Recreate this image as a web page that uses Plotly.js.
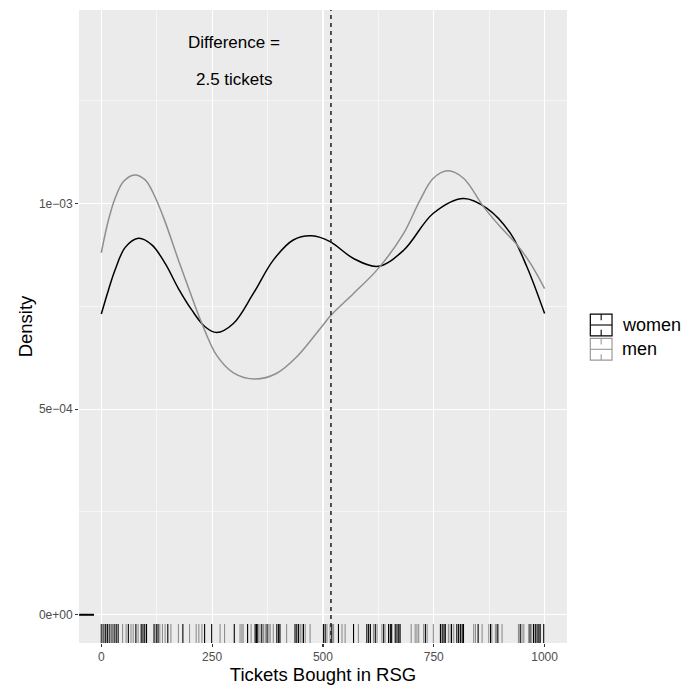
<!DOCTYPE html>
<html>
<head>
<meta charset="utf-8">
<script src="https://cdn.plot.ly/plotly-3.0.1.min.js"></script>
<style>html,body{margin:0;padding:0;background:#fff;}#chart{width:685px;height:687px;}</style>
</head>
<body>
<div id="chart"></div>
<script>
// ---- data ----
const groups = ["women", "men"];
const groupColors = ["#000000", "#8F8F8F"];

const womenX = [0, 16, 31, 54, 84, 114, 144, 174, 204, 234, 260, 298, 343, 388, 433, 475, 516, 569, 625, 682, 749, 817, 870, 923, 960, 1000];
const womenY = [0.000731, 0.000789, 0.000838, 0.000893, 0.000915, 0.000899, 0.000854, 0.000793, 0.000741, 0.000700, 0.000686, 0.000708, 0.000781, 0.000862, 0.000911, 0.000921, 0.000907, 0.000866, 0.000847, 0.000886, 0.000976, 0.001012, 0.000988, 0.000927, 0.000846, 0.000732];

const menX = [0, 16, 31, 50, 75, 99, 121, 144, 174, 204, 227, 260, 298, 347, 396, 441, 494, 518, 569, 625, 682, 719, 749, 782, 817, 862, 900, 938, 968, 1000];
const menY = [0.000880, 0.000959, 0.001012, 0.001053, 0.001069, 0.001057, 0.001016, 0.000955, 0.000862, 0.000773, 0.000708, 0.000631, 0.000588, 0.000573, 0.000587, 0.000627, 0.000696, 0.000728, 0.000781, 0.000842, 0.000927, 0.001008, 0.001061, 0.001079, 0.001061, 0.000992, 0.000943, 0.000899, 0.000854, 0.000793];

const womenRug = [0, 4, 9, 14, 19, 24, 29, 34, 38, 61, 78, 90, 94, 98, 102, 119, 124, 128, 150, 184, 233, 249, 300, 330, 347, 350, 353, 362, 374, 396, 400, 403, 437, 441, 445, 456, 501, 505, 520, 535, 569, 599, 603, 607, 618, 637, 648, 652, 655, 663, 667, 671, 674, 731, 765, 769, 773, 776, 790, 802, 806, 810, 814, 817, 850, 878, 893, 945, 967, 975, 979, 983, 987, 990, 998];
const menRug = [2, 7, 12, 17, 22, 27, 32, 36, 48, 56, 67, 72, 83, 132, 138, 144, 157, 174, 199, 214, 220, 227, 268, 278, 313, 317, 320, 338, 358, 366, 370, 378, 381, 388, 418, 449, 453, 460, 471, 509, 516, 524, 543, 550, 580, 614, 622, 633, 640, 699, 708, 712, 716, 727, 735, 749, 783, 787, 795, 840, 844, 859, 874, 881, 889, 896, 904, 941, 949, 953, 964, 971];

const zeroSegX = [-50, -16.5];
const zeroSegY = [0, 0];

const meanLineX = 518;
const diffLabels = ["Difference =", "2.5 tickets"];
const diffLabelX = [300, 300];
const diffLabelY = [0.00139, 0.0013];

const xTickVals = [0, 250, 500, 750, 1000];
const xTickText = ["0", "250", "500", "750", "1000"];
const xMinorVals = [125, 375, 625, 875];
const yTickVals = [0, 0.0005, 0.001];
const yTickText = ["0e+00", "5e\u221204", "1e\u221203"];
const yMinorVals = [0.00025, 0.00075, 0.00125];

const xTitle = "Tickets Bought in RSG";
const yTitle = "Density";

// ---- build ----
const FONT = "Liberation Sans, Arial, Helvetica, sans-serif";
const W = 685, H = 687;
const M = {l: 79, r: 118.3, t: 10, b: 44.3};
const PW = W - M.l - M.r, PH = H - M.t - M.b;
const px2paperX = p => (p - M.l) / PW;
const px2paperY = p => (H - M.b - p) / PH;

const traces = [
  {x: womenX, y: womenY, type: "scatter", mode: "lines", line: {color: groupColors[0], width: 1.5, shape: "spline", smoothing: 1}, showlegend: false, hoverinfo: "skip"},
  {x: menX, y: menY, type: "scatter", mode: "lines", line: {color: groupColors[1], width: 1.5, shape: "spline", smoothing: 1}, showlegend: false, hoverinfo: "skip"},
  {x: zeroSegX, y: zeroSegY, type: "scatter", mode: "lines", line: {color: "#000000", width: 2}, showlegend: false, hoverinfo: "skip"}
];

const shapes = [];
function addRug(vals, color) {
  vals.forEach(v => shapes.push({type: "line", xref: "x", yref: "paper", x0: v, x1: v, y0: 0, y1: 0.03, line: {color: color, width: 1.1}}));
}
addRug(womenRug, groupColors[0]);
addRug(menRug, groupColors[1]);

shapes.push({type: "line", xref: "x", yref: "paper", x0: meanLineX, x1: meanLineX, y0: 0, y1: 1, line: {color: "#2B2B2B", width: 1.6, dash: "4px,4px"}});

// legend (drawn manually to mimic ggplot keys)
const annotations = [];
const keyLeft = 590, keySize = 21.7, keyTops = [314, 338.3];
groups.forEach((g, i) => {
  const top = keyTops[i], bot = top + keySize, left = keyLeft, right = keyLeft + keySize;
  const cx = (left + right) / 2, cy = (top + bot) / 2;
  const c = i === 0 ? "#000000" : "#9A9A9A";
  shapes.push({type: "rect", xref: "paper", yref: "paper", x0: px2paperX(left), x1: px2paperX(right), y0: px2paperY(bot), y1: px2paperY(top), line: {color: c, width: 1.2}, fillcolor: "#FFFFFF"});
  shapes.push({type: "line", xref: "paper", yref: "paper", x0: px2paperX(left), x1: px2paperX(right), y0: px2paperY(cy), y1: px2paperY(cy), line: {color: c, width: 1.1}});
  shapes.push({type: "line", xref: "paper", yref: "paper", x0: px2paperX(cx), x1: px2paperX(cx), y0: px2paperY(top), y1: px2paperY(top + 6), line: {color: c, width: 1.1}});
  shapes.push({type: "line", xref: "paper", yref: "paper", x0: px2paperX(cx), x1: px2paperX(cx), y0: px2paperY(bot - 6), y1: px2paperY(bot), line: {color: c, width: 1.1}});
  annotations.push({xref: "paper", yref: "paper", x: px2paperX(620), y: px2paperY(cy), text: g, showarrow: false, xanchor: "left", yanchor: "middle", font: {family: FONT, size: 18, color: "#000000"}});
});

diffLabels.forEach((t, i) => annotations.push({xref: "x", yref: "y", x: diffLabelX[i], y: diffLabelY[i], text: t, showarrow: false, xanchor: "center", yanchor: "middle", font: {family: FONT, size: 17, color: "#000000"}}));

const layout = {
  width: W, height: H,
  margin: M,
  paper_bgcolor: "#FFFFFF",
  plot_bgcolor: "#EBEBEB",
  showlegend: false,
  font: {family: FONT},
  xaxis: {
    range: [-50.3, 1050.5], tickvals: xTickVals, ticktext: xTickText,
    ticks: "outside", ticklen: 3, tickwidth: 1.1, tickcolor: "#333333",
    tickfont: {family: FONT, size: 12, color: "#4D4D4D"},
    showgrid: true, gridcolor: "#FFFFFF", gridwidth: 1.1, zeroline: false, showline: false,
    minor: {tickvals: xMinorVals, showgrid: true, gridcolor: "#FFFFFF", gridwidth: 0.55, ticks: ""},
    title: {text: xTitle, font: {family: FONT, size: 18.5, color: "#000000"}, standoff: 0},
    automargin: false
  },
  yaxis: {
    range: [-0.0000686, 0.00147], tickvals: yTickVals, ticktext: yTickText,
    ticks: "outside", ticklen: 3, tickwidth: 1.1, tickcolor: "#333333",
    tickfont: {family: FONT, size: 12, color: "#4D4D4D"},
    showgrid: true, gridcolor: "#FFFFFF", gridwidth: 1.1, zeroline: false, showline: false,
    minor: {tickvals: yMinorVals, showgrid: true, gridcolor: "#FFFFFF", gridwidth: 0.55, ticks: ""},
    title: {text: yTitle, font: {family: FONT, size: 18.5, color: "#000000"}, standoff: 1},
    automargin: false
  },
  shapes: shapes,
  annotations: annotations
};

Plotly.newPlot("chart", traces, layout, {staticPlot: true, displayModeBar: false});
</script>
</body>
</html>
